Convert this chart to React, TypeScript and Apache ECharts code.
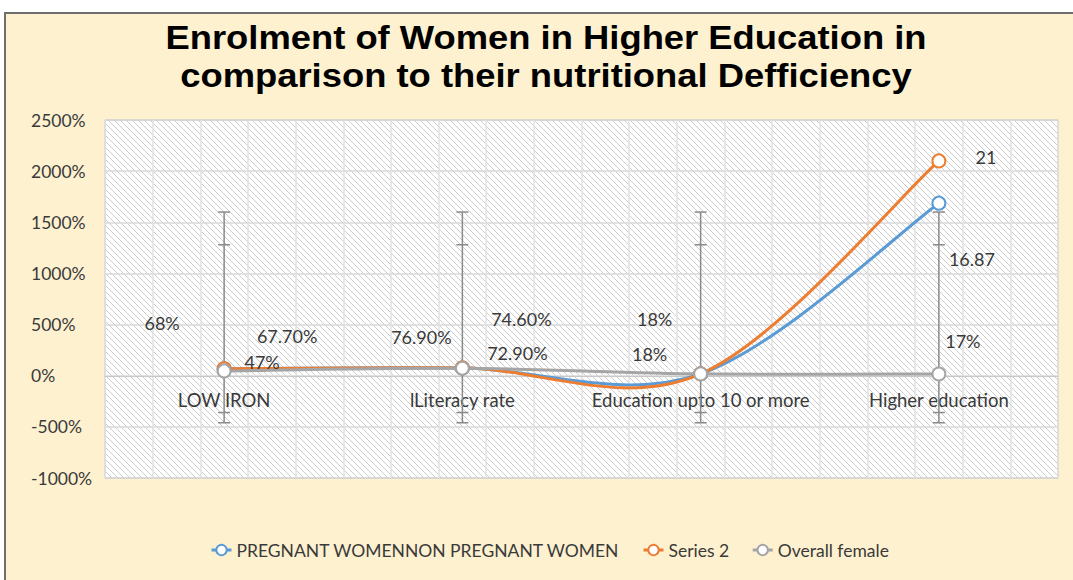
import React, { useEffect, useRef } from "react";
import * as echarts from "echarts";

const categories = ["LOW IRON", "lLiteracy rate", "Education upto 10 or more", "Higher education"];
const seriesNames = ["PREGNANT WOMENNON PREGNANT WOMEN", "Series 2", "Overall female"];
const titleLines = ["Enrolment of Women in Higher Education in", "comparison to their nutritional Defficiency"];
const pregnantValues = [0.677, 0.746, 0.18, 16.87];
const series2Values = [0.68, 0.769, 0.18, 21];
const overallValues = [0.47, 0.729, 0.18, 0.17];
const pregnantLabels = ["67.70%", "74.60%", "", "16.87"];
const series2Labels = ["68%", "76.90%", "18%", "21"];
const overallLabels = ["47%", "72.90%", "18%", "17%"];
const errLowA = [-4.6, -4.6, -4.6, -4.6];
const errHighA = [16, 16, 16, 16];
const errLowB = [-3.6, -3.6, -3.6, -3.6];
const errHighB = [12.8, 12.8, 12.8, 12.8];
const yTicks = { min: -10, max: 25, interval: 5 };

// label offsets (styling only)
const pregnantOffsets = [[63, -33], [59, -49], [0, 0], [33, 56]];
const series2Offsets = [[-62, -46], [-41, -31], [-46, -55], [47, -4]];
const overallOffsets = [[38, -9], [55, -15], [-51, -20], [24, -33]];

const COLORS = ["#5B9BD5", "#ED7D31", "#A5A5A5"];
const FONT = "Lato";
const TEXT = "#3a3a3a";

function makeHatch() {
  const c = document.createElement("canvas");
  const s = 6;
  c.width = s;
  c.height = s;
  const ctx = c.getContext("2d")!;
  ctx.fillStyle = "#ffffff";
  ctx.fillRect(0, 0, s, s);
  ctx.strokeStyle = "#cdcdcd";
  ctx.lineWidth = 1;
  ctx.beginPath();
  ctx.moveTo(-1, -1);
  ctx.lineTo(s + 1, s + 1);
  ctx.moveTo(-1 - s, -1);
  ctx.lineTo(1, s + 1);
  ctx.moveTo(s - 1, -1);
  ctx.lineTo(2 * s + 1, s + 1);
  ctx.stroke();
  return c;
}

// Symbols, labels and legend entry
function markerSeries(name: string, values: number[], labels: string[], offsets: number[][], color: string, z: number) {
  return {
    name,
    type: "line",
    z,
    symbol: "emptyCircle",
    symbolSize: 13,
    showSymbol: true,
    lineStyle: { color, width: 3, opacity: 0 },
    itemStyle: { color, borderColor: color, borderWidth: 2.5 },
    data: values.map((v, i) => ({
      value: v,
      label: {
        show: labels[i] !== "",
        position: "inside",
        offset: offsets[i],
        formatter: labels[i],
        color: TEXT,
        fontSize: 18,
        fontFamily: FONT,
      },
    })),
  };
}

// Excel-style smoothed line (Catmull-Rom, 1/6 tension) through the axis scales
function curveSeries(values: number[], color: string, z: number) {
  const n = values.length;
  return {
    type: "custom",
    xAxisIndex: 0,
    yAxisIndex: 0,
    z,
    silent: true,
    data: values.map((v, i) => [i, v]),
    renderItem: (params: any, api: any) => {
      const i = params.dataIndex;
      if (i >= n - 1) return { type: "group", children: [] };
      const pt = (k: number) => {
        const kk = Math.max(0, Math.min(n - 1, k));
        return api.coord([kk, values[kk]]);
      };
      const p0 = pt(i - 1);
      const p1 = pt(i);
      const p2 = pt(i + 1);
      const p3 = pt(i + 2);
      return {
        type: "bezierCurve",
        shape: {
          x1: p1[0],
          y1: p1[1],
          x2: p2[0],
          y2: p2[1],
          cpx1: p1[0] + (p2[0] - p0[0]) / 6,
          cpy1: p1[1] + (p2[1] - p0[1]) / 6,
          cpx2: p2[0] - (p3[0] - p1[0]) / 6,
          cpy2: p2[1] - (p3[1] - p1[1]) / 6,
        },
        style: { stroke: color, lineWidth: 3, fill: null, lineCap: "round" },
      };
    },
  };
}

export default function App() {
  const ref = useRef<HTMLDivElement>(null);
  useEffect(() => {
    if (!ref.current) return;
    const chart = echarts.init(ref.current, null, { renderer: "svg" });
    const hatch = makeHatch();
    const errData = categories.map((_, i) => [i, errLowA[i], errHighA[i], errLowB[i], errHighB[i]]);
    chart.setOption({
      animation: false,
      backgroundColor: "transparent",
      graphic: titleLines.map((t, i) => ({
        type: "text",
        x: 546,
        y: 37 + i * 38,
        scaleX: 1.07,
        silent: true,
        style: {
          text: t,
          fontFamily: "Liberation Sans",
          fontWeight: "bold",
          fontSize: 34,
          fill: "#000",
          textAlign: "center",
          textVerticalAlign: "middle",
        },
      })),
      grid: {
        left: 105,
        right: 15,
        top: 120,
        bottom: 102,
        show: true,
        backgroundColor: { image: hatch, repeat: "repeat", imageWidth: 6, imageHeight: 6 },
        borderColor: "#b0b0b0",
        borderWidth: 1,
      },
      legend: {
        left: 205,
        top: 536,
        itemWidth: 20,
        itemHeight: 13,
        itemGap: 22,
        textStyle: { fontFamily: FONT, fontSize: 17.5, color: TEXT },
        data: seriesNames.map((name, i) => ({
          name,
          lineStyle: { color: COLORS[i], width: 3, opacity: 1 },
        })),
      },
      xAxis: [
        {
          type: "category",
          data: categories,
          boundaryGap: true,
          offset: -102,
          axisLine: { onZero: false, lineStyle: { color: "#c8c8c8", width: 1 } },
          axisTick: { show: false },
          axisLabel: { margin: 14, fontFamily: FONT, fontSize: 18.5, color: TEXT, interval: 0 },
          splitLine: { show: false },
        },
        {
          type: "value",
          min: 0,
          max: 20,
          interval: 1,
          show: true,
          position: "top",
          axisLine: { show: false },
          axisTick: { show: false },
          axisLabel: { show: false },
          splitLine: { show: true, lineStyle: { color: "#e2e2e2", width: 1.5 } },
        },
      ],
      yAxis: {
        type: "value",
        min: yTicks.min,
        max: yTicks.max,
        interval: yTicks.interval,
        axisLine: { show: false },
        axisTick: { show: false },
        axisLabel: {
          align: "left",
          margin: 74,
          fontFamily: FONT,
          fontSize: 17.5,
          color: TEXT,
          formatter: (v: number) => `${Math.round(v * 100)}%`,
        },
        splitLine: { lineStyle: { color: "#d9d9d9", width: 1.5 } },
      },
      series: [
        {
          type: "custom",
          xAxisIndex: 0,
          z: 1,
          silent: true,
          data: errData,
          renderItem: (params: any, api: any) => {
            const x = api.value(0);
            const cap = 6;
            const style = { stroke: "#8a8a8a", lineWidth: 1.5 };
            const lo1 = api.coord([x, api.value(1)]);
            const hi1 = api.coord([x, api.value(2)]);
            const lo2 = api.coord([x, api.value(3)]);
            const hi2 = api.coord([x, api.value(4)]);
            const mk = (x1: number, y1: number, x2: number, y2: number) => ({
              type: "line",
              shape: { x1, y1, x2, y2 },
              style,
            });
            return {
              type: "group",
              children: [
                mk(lo1[0], lo1[1], hi1[0], hi1[1]),
                mk(lo1[0] - cap, lo1[1], lo1[0] + cap, lo1[1]),
                mk(hi1[0] - cap, hi1[1], hi1[0] + cap, hi1[1]),
                mk(lo2[0] - cap, lo2[1], lo2[0] + cap, lo2[1]),
                mk(hi2[0] - cap, hi2[1], hi2[0] + cap, hi2[1]),
              ],
            };
          },
        },
        curveSeries(pregnantValues, COLORS[0], 2),
        curveSeries(series2Values, COLORS[1], 3),
        curveSeries(overallValues, COLORS[2], 4),
        markerSeries(seriesNames[0], pregnantValues, pregnantLabels, pregnantOffsets, COLORS[0], 5),
        markerSeries(seriesNames[1], series2Values, series2Labels, series2Offsets, COLORS[1], 6),
        markerSeries(seriesNames[2], overallValues, overallLabels, overallOffsets, COLORS[2], 7),
      ],
    });
    return () => chart.dispose();
  }, []);
  return (
    <div style={{ position: "fixed", left: 0, top: 0, width: 1073, height: 580, background: "#fff", overflow: "hidden" }}>
      <div
        style={{
          position: "absolute",
          left: 4,
          top: 12,
          width: 1100,
          height: 600,
          background: "#FEF1D0",
          border: "2px solid #6e6e6e",
          boxSizing: "border-box",
        }}
      />
      <div ref={ref} style={{ position: "absolute", left: 0, top: 0, width: 1073, height: 580 }} />
    </div>
  );
}
